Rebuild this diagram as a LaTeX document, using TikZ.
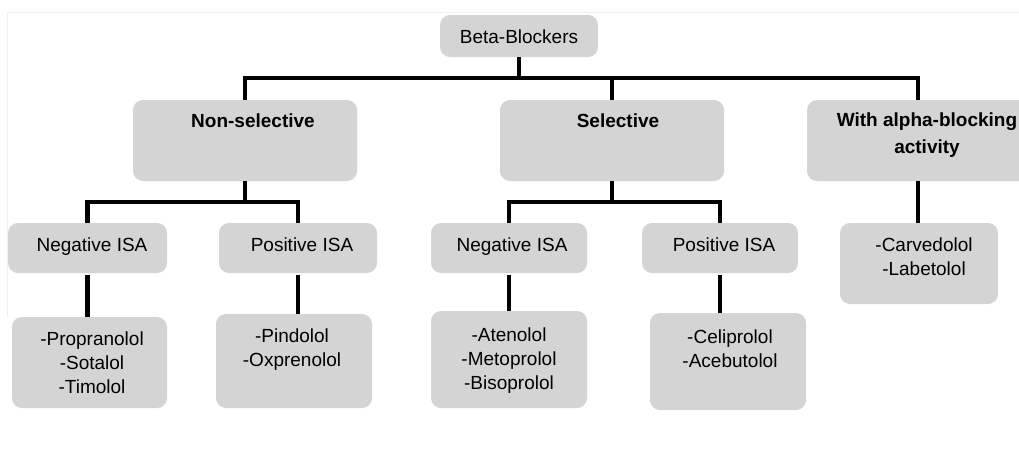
\documentclass[tikz,border=0pt]{standalone}
\usepackage{fontspec}
\setmainfont{Liberation Sans}
\definecolor{boxgray}{HTML}{D4D4D4}
\definecolor{framegray}{HTML}{F0F0F0}
\begin{document}
\begin{tikzpicture}[x=1pt,y=-1pt,
  box/.style={fill=boxgray, rounded corners=10pt, inner sep=0pt, draw=none},
  txt/.style={font=\fontsize{19}{24}\selectfont, align=center, inner sep=0pt},
  bold/.style={txt, font=\fontsize{19}{24}\selectfont\bfseries},
  conn/.style={line width=4.5pt, draw=black, line join=miter}]
\clip (0,0) rectangle (1019,474);
\fill[white] (0,0) rectangle (1019,474);
\draw[framegray, line width=1pt] (7,317) -- (7,12) -- (1019,12);
% boxes
\node[box, minimum width=158pt, minimum height=42pt] (bb) at (519,36) {};
\node[box, minimum width=224pt, minimum height=81pt] (ns) at (245,140.5) {};
\node[box, minimum width=224pt, minimum height=81pt] (sel) at (612,140.5) {};
\node[box, minimum width=222pt, minimum height=81pt] (al) at (918,140.5) {};
\node[box, minimum width=159pt, minimum height=50pt] (n1) at (87.5,248) {};
\node[box, minimum width=158pt, minimum height=50pt] (p1) at (298,248) {};
\node[box, minimum width=156pt, minimum height=50pt] (n2) at (509,248) {};
\node[box, minimum width=156pt, minimum height=50pt] (p2) at (720,248) {};
\node[box, minimum width=158pt, minimum height=81pt] (alleaf) at (919,263.5) {};
\node[box, minimum width=155pt, minimum height=91pt] (prop) at (89.5,362.5) {};
\node[box, minimum width=156pt, minimum height=94pt] (pind) at (294,361) {};
\node[box, minimum width=156pt, minimum height=97pt] (aten) at (509,359.5) {};
\node[box, minimum width=156pt, minimum height=97pt] (celi) at (728,361.5) {};
% texts
\node[txt, text height=14pt, text depth=0pt] (tbb) at (519,36) {Beta-Blockers};
\node[bold, text height=14pt, text depth=0pt] (tns) at (253,120) {Non-selective};
\node[bold, text height=14pt, text depth=0pt] (tsel) at (618,120) {Selective};
\node[bold] (tal) at (927,135) {With alpha-blocking\\[3pt]activity};
\node[txt, text height=14pt, text depth=0pt] (tn1) at (92,244) {Negative ISA};
\node[txt, text height=14pt, text depth=0pt] (tp1) at (302,244) {Positive ISA};
\node[txt, text height=14pt, text depth=0pt] (tn2) at (512,244) {Negative ISA};
\node[txt, text height=14pt, text depth=0pt] (tp2) at (724,244) {Positive ISA};
\node[txt] (tprop) at (92,363) {-Propranolol\\-Sotalol\\-Timolol};
\node[txt] (tpind) at (292,350) {-Pindolol\\-Oxprenolol};
\node[txt] (taten) at (509,361) {-Atenolol\\-Metoprolol\\-Bisoprolol};
\node[txt] (tceli) at (730,349) {-Celiprolol\\-Acebutolol};
\node[txt] (talleaf) at (924,257) {-Carvedolol\\-Labetolol};
% connectors
\coordinate (j0) at (519,78);
\coordinate (j1) at (245,202);
\coordinate (j2) at (612,202);
\draw[conn] (bb.south) -- (j0);
\draw[conn] (ns.north) |- (j0) -| (al.north);
\draw[conn] (sel.north) -- (sel.north |- j0);
\draw[conn] (ns.south) -- (j1);
\draw[conn] (n1.north) |- (j1) -| (p1.north);
\draw[conn] (sel.south) -- (j2);
\draw[conn] (n2.north) |- (j2) -| (p2.north);
\draw[conn] (al.south) -- (al.south |- alleaf.north);
\draw[conn] ([yshift=-2pt]n1.south) -- (n1.south |- prop.north);
\draw[conn] ([yshift=-2pt]p1.south) -- (p1.south |- pind.north);
\draw[conn] ([yshift=-2pt]n2.south) -- (n2.south |- aten.north);
\draw[conn] ([yshift=-2pt]p2.south) -- (p2.south |- celi.north);
\end{tikzpicture}
\end{document}
